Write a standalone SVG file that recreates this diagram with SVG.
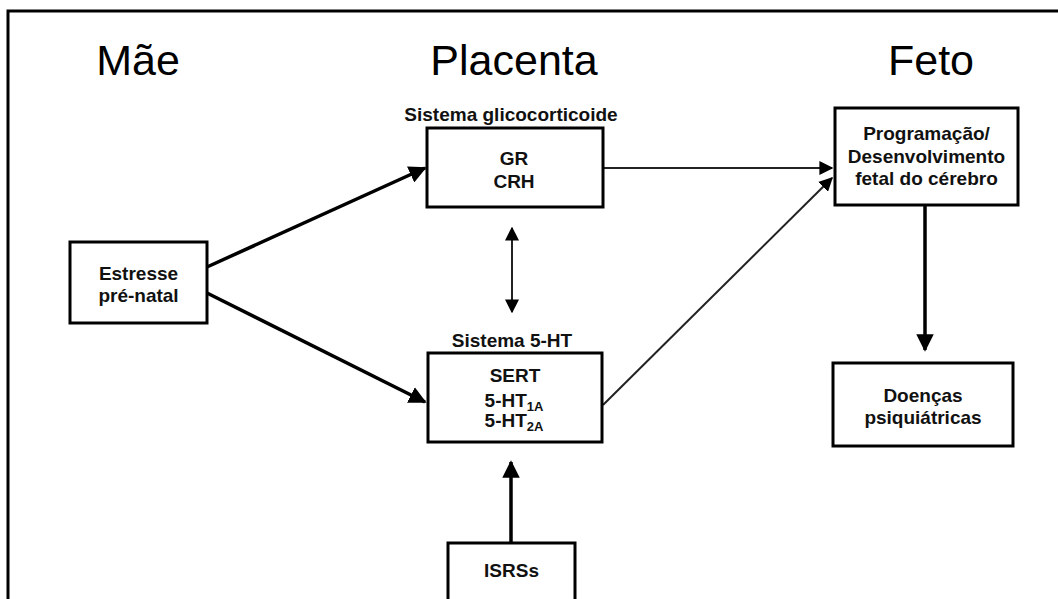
<svg xmlns="http://www.w3.org/2000/svg" width="1058" height="599" viewBox="0 0 1058 599">
<defs>
<style>
.box{fill:#fff;stroke:#000;stroke-width:3}
.t{font-family:"Liberation Sans",Arial,sans-serif;font-weight:bold;font-size:19px;text-anchor:middle;fill:#111}
.title{font-family:"Liberation Sans",Arial,sans-serif;font-size:43px;text-anchor:middle;fill:#000}
.thick{stroke:#000;stroke-width:3.5;fill:none}
.thin{stroke:#222;stroke-width:2;fill:none}
</style>
<marker id="ah" viewBox="0 0 10 10" refX="9" refY="5" markerWidth="5" markerHeight="5" markerUnits="strokeWidth" orient="auto"><path d="M0,0 L10,5 L0,10 z" fill="#000"/></marker>
<marker id="ahs" viewBox="0 0 10 10" refX="9" refY="5" markerWidth="7" markerHeight="7" markerUnits="strokeWidth" orient="auto-start-reverse"><path d="M0,0 L10,5 L0,10 z" fill="#000"/></marker>
</defs>
<rect width="1058" height="599" fill="#fff"/>
<path d="M8,599 V11 H1058" fill="none" stroke="#000" stroke-width="3"/>
<g id="titles">
<text class="title" x="138" y="75">Mãe</text>
<text class="title" x="514" y="75">Placenta</text>
<text class="title" x="931" y="75">Feto</text>
</g>
<g id="connectors">
<line class="thick" x1="207" y1="267" x2="425" y2="168" marker-end="url(#ah)"/>
<line class="thick" x1="207" y1="293" x2="425" y2="402" marker-end="url(#ah)"/>
<line class="thin" x1="603" y1="168" x2="832" y2="168" marker-end="url(#ahs)"/>
<line class="thin" x1="603" y1="405" x2="832" y2="178" marker-end="url(#ahs)"/>
<line class="thin" x1="512" y1="228" x2="512" y2="312" marker-start="url(#ahs)" marker-end="url(#ahs)"/>
<line class="thick" x1="925" y1="205" x2="925" y2="350" stroke-width="4" marker-end="url(#ah)"/>
<line class="thick" x1="511" y1="543" x2="511" y2="462" stroke-width="4" marker-end="url(#ah)"/>
</g>
<g id="estresse">
<rect class="box" x="70" y="242" width="137" height="81"/>
<text class="t" x="138.5" y="280">Estresse</text>
<text class="t" x="138.5" y="302">pré-natal</text>
</g>
<g id="glico">
<text class="t" x="511" y="121">Sistema glicocorticoide</text>
<rect class="box" x="427" y="128" width="176" height="79"/>
<text class="t" x="514" y="165">GR</text>
<text class="t" x="514" y="188">CRH</text>
</g>
<g id="ht">
<text class="t" x="512" y="347">Sistema 5-HT</text>
<rect class="box" x="428" y="353" width="174" height="89"/>
<text class="t" x="515" y="382">SERT</text>
<text class="t" x="514" y="407">5-HT<tspan font-size="13" dy="4">1A</tspan></text>
<text class="t" x="514" y="427">5-HT<tspan font-size="13" dy="4">2A</tspan></text>
</g>
<g id="feto">
<rect class="box" x="835" y="108" width="183" height="97"/>
<text class="t" x="926.5" y="140">Programação/</text>
<text class="t" x="926.5" y="163">Desenvolvimento</text>
<text class="t" x="926.5" y="185">fetal do cérebro</text>
</g>
<g id="doencas">
<rect class="box" x="833" y="363" width="180" height="83"/>
<text class="t" x="923" y="402">Doenças</text>
<text class="t" x="923" y="424">psiquiátricas</text>
</g>
<g id="isrss">
<rect class="box" x="448" y="543" width="127" height="60"/>
<text class="t" x="511.5" y="577">ISRSs</text>
</g>
</svg>
